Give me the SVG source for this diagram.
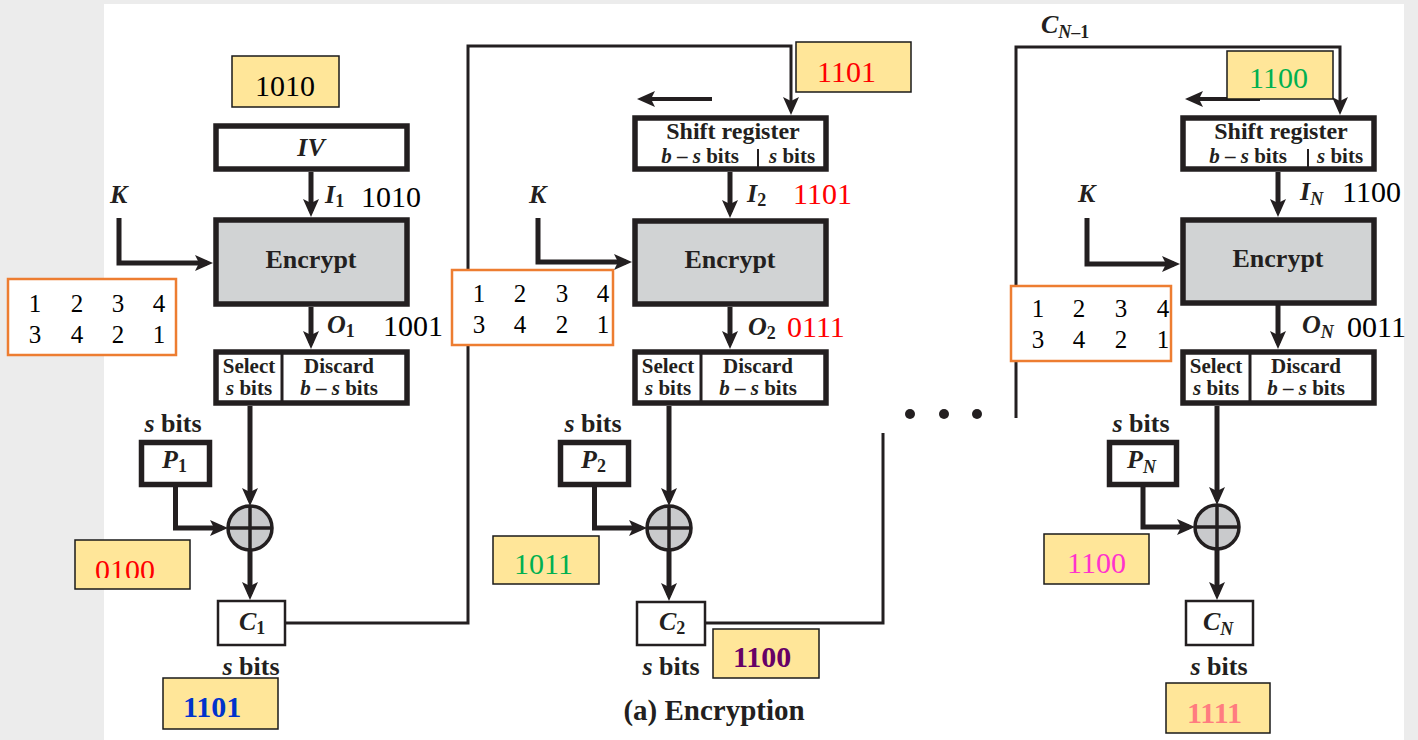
<svg xmlns="http://www.w3.org/2000/svg" width="1418" height="740" viewBox="0 0 1418 740">
<defs>
<style>
.t{font-family:"Liberation Serif","Times New Roman",serif;font-weight:bold;fill:#231f20;}
.m{text-anchor:middle;}
.i{font-style:italic;}
.n{font-family:"Liberation Serif","Times New Roman",serif;font-size:30px;fill:#000;}
.p{font-family:"Liberation Serif","Times New Roman",serif;font-size:25px;fill:#000;text-anchor:middle;}
.yb{fill:#ffe699;stroke:#1a1a1a;stroke-width:1.5;}
.ob{fill:#fff;stroke:#ed7d31;stroke-width:2.5;}
.bx{fill:#fff;stroke:#231f20;stroke-width:5.5;}
.cb{fill:#fff;stroke:#231f20;stroke-width:2.5;}
.en{fill:#d1d3d4;stroke:#231f20;stroke-width:5.5;}
.dv{stroke:#231f20;stroke-width:3;}
.ar{fill:none;stroke:#231f20;stroke-width:5;marker-end:url(#ah);}
.fb{fill:none;stroke:#231f20;stroke-width:3;}
.fba{fill:none;stroke:#231f20;stroke-width:3;marker-end:url(#ah);}
.xo{fill:#c9cacc;stroke:#231f20;stroke-width:3.5;}
.xl{stroke:#231f20;stroke-width:3.5;}
</style>
<marker id="ah" viewBox="0 0 18 18" markerWidth="18" markerHeight="18" refX="12" refY="9" orient="auto" markerUnits="userSpaceOnUse">
<path d="M0,1 L18,9 L0,17 L4,9 Z" fill="#231f20"/>
</marker>
<clipPath id="clip0100"><rect x="75" y="540" width="115" height="38"/></clipPath>
</defs>
<rect x="0" y="0" width="1418" height="740" fill="#ececec"/>
<rect x="104" y="4" width="1300" height="736" fill="#fff"/>

<g id="connectors">
<path class="ar" d="M311,172 V211"/>
<path class="ar" d="M119,218 V263 H207"/>
<path class="ar" d="M311,307 V343"/>
<path class="ar" d="M250,406 V500"/>
<path class="ar" d="M175.5,487 V528 H222"/>
<path class="ar" d="M250,550 V594"/>
<path class="fba" d="M286,623 H468 V46 H791 V109"/>
<path class="ar" d="M730,172 V212"/>
<path class="ar" d="M538,218 V262 H626"/>
<path class="ar" d="M730,307 V343"/>
<path class="ar" d="M669,406 V500"/>
<path class="ar" d="M594.5,487 V528 H641"/>
<path class="ar" d="M669,550 V595"/>
<path class="fb" d="M706,623 H883 V433"/>
<path class="ar" d="M712,99 H643" style="stroke-width:4"/>
<path class="ar" d="M1278,172 V211"/>
<path class="ar" d="M1087,218 V264 H1174"/>
<path class="ar" d="M1278,305 V343"/>
<path class="ar" d="M1217,406 V499"/>
<path class="ar" d="M1143,487 V527 H1189"/>
<path class="ar" d="M1217,549 V594"/>
<path class="fba" d="M1016,418 V47 H1340 V109"/>
<path class="ar" d="M1260,99 H1191" style="stroke-width:4"/>
</g>

<!-- Column 1 -->
<g id="iv">
<rect class="bx" x="216" y="126" width="191" height="43"/>
<text class="t i m" x="311" y="156" font-size="26">IV</text>
</g>
<g id="i1-label">
<text class="t" x="325" y="203" font-size="26"><tspan class="i">I</tspan><tspan font-size="18" dy="4">1</tspan></text>
<text class="n" x="361" y="207">1010</text>
</g>
<g id="k1"><text class="t i" x="110" y="203" font-size="26">K</text></g>
<g id="encrypt1">
<rect class="en" x="216" y="220" width="191" height="84"/>
<text class="t m" x="311" y="268" font-size="26">Encrypt</text>
</g>
<g id="o1-label">
<text class="t" x="327" y="333" font-size="26"><tspan class="i">O</tspan><tspan font-size="18" dy="4">1</tspan></text>
<text class="n" x="383" y="336">1001</text>
</g>
<g id="select1">
<rect class="bx" x="216" y="352" width="191" height="51"/>
<line class="dv" x1="282" y1="352" x2="282" y2="403"/>
<text class="t m" x="249" y="373" font-size="21">Select</text>
<text class="t m" x="249" y="395" font-size="21"><tspan class="i">s</tspan> bits</text>
<text class="t m" x="339" y="373" font-size="21">Discard</text>
<text class="t m" x="339" y="395" font-size="21"><tspan class="i">b</tspan> – <tspan class="i">s</tspan> bits</text>
</g>
<g id="perm1">
<rect class="ob" x="8" y="279" width="168" height="76"/>
<text class="p" y="312"><tspan x="35">1</tspan><tspan x="77">2</tspan><tspan x="118">3</tspan><tspan x="159">4</tspan></text>
<text class="p" y="343"><tspan x="35">3</tspan><tspan x="77">4</tspan><tspan x="118">2</tspan><tspan x="159">1</tspan></text>
</g>
<g id="p1">
<text class="t m" x="173" y="432" font-size="26"><tspan class="i">s</tspan> bits</text>
<rect class="bx" x="141.5" y="442.5" width="68" height="42"/>
<text class="t" x="162" y="468" font-size="26"><tspan class="i">P</tspan><tspan font-size="18" dy="4">1</tspan></text>
</g>
<g id="xor1">
<circle class="xo" cx="250" cy="528" r="22"/>
<line class="xl" x1="228" y1="528" x2="272" y2="528"/>
<line class="xl" x1="250" y1="506" x2="250" y2="550"/>
</g>
<g id="c1">
<rect class="cb" x="218" y="601" width="67" height="44"/>
<text class="t" x="239" y="630" font-size="26" font-weight="normal"><tspan class="i">C</tspan><tspan font-size="18" dy="4">1</tspan></text>
<text class="t m" x="251" y="675" font-size="26"><tspan class="i">s</tspan> bits</text>
</g>
<g id="v1010"><rect class="yb" x="232" y="56" width="107" height="51"/><text class="n m" x="285" y="96">1010</text></g>
<g id="v0100"><rect class="yb" x="75" y="540" width="115" height="49"/><text class="n" x="95" y="580" clip-path="url(#clip0100)" style="fill:#ff0000">0100</text></g>
<g id="v1101b"><rect class="yb" x="163" y="678" width="115" height="51"/><text class="n" x="183" y="717" font-weight="bold" style="fill:#0033cc">1101</text></g>

<!-- Column 2 -->
<g id="shift2">
<rect class="bx" x="635" y="118" width="191" height="51"/>
<line x1="758" y1="149" x2="758" y2="168" stroke="#231f20" stroke-width="2"/>
<text class="t m" x="733" y="139" font-size="24">Shift register</text>
<text class="t m" x="700" y="163" font-size="21"><tspan class="i">b</tspan> – <tspan class="i">s</tspan> bits</text>
<text class="t m" x="792" y="163" font-size="21"><tspan class="i">s</tspan> bits</text>
</g>
<g id="i2-label">
<text class="t" x="747" y="202" font-size="26"><tspan class="i">I</tspan><tspan font-size="18" dy="4">2</tspan></text>
<text class="n" x="793" y="204" style="fill:#ff0000">1101</text>
</g>
<g id="k2"><text class="t i" x="529" y="203" font-size="26">K</text></g>
<g id="encrypt2">
<rect class="en" x="635" y="221" width="191" height="83"/>
<text class="t m" x="730" y="268" font-size="26">Encrypt</text>
</g>
<g id="o2-label">
<text class="t" x="748" y="335" font-size="26"><tspan class="i">O</tspan><tspan font-size="18" dy="4">2</tspan></text>
<text class="n" x="787" y="337" style="fill:#ff0000">0111</text>
</g>
<g id="select2">
<rect class="bx" x="635" y="352" width="191" height="51"/>
<line class="dv" x1="701" y1="352" x2="701" y2="403"/>
<text class="t m" x="668" y="373" font-size="21">Select</text>
<text class="t m" x="668" y="395" font-size="21"><tspan class="i">s</tspan> bits</text>
<text class="t m" x="758" y="373" font-size="21">Discard</text>
<text class="t m" x="758" y="395" font-size="21"><tspan class="i">b</tspan> – <tspan class="i">s</tspan> bits</text>
</g>
<g id="perm2">
<rect class="ob" x="452" y="270" width="161" height="75"/>
<text class="p" y="302"><tspan x="479">1</tspan><tspan x="520">2</tspan><tspan x="562">3</tspan><tspan x="603">4</tspan></text>
<text class="p" y="333"><tspan x="479">3</tspan><tspan x="520">4</tspan><tspan x="562">2</tspan><tspan x="603">1</tspan></text>
</g>
<g id="p2">
<text class="t m" x="593" y="432" font-size="26"><tspan class="i">s</tspan> bits</text>
<rect class="bx" x="560.5" y="442.5" width="68" height="42"/>
<text class="t" x="581" y="468" font-size="26"><tspan class="i">P</tspan><tspan font-size="18" dy="4">2</tspan></text>
</g>
<g id="xor2">
<circle class="xo" cx="669" cy="528" r="22"/>
<line class="xl" x1="647" y1="528" x2="691" y2="528"/>
<line class="xl" x1="669" y1="506" x2="669" y2="550"/>
</g>
<g id="c2">
<rect class="cb" x="637" y="602" width="68" height="43"/>
<text class="t" x="659" y="630" font-size="26" font-weight="normal"><tspan class="i">C</tspan><tspan font-size="18" dy="4">2</tspan></text>
<text class="t m" x="671" y="675" font-size="26"><tspan class="i">s</tspan> bits</text>
</g>
<g id="v1101r"><rect class="yb" x="796" y="42" width="115" height="50"/><text class="n" x="817" y="82" style="fill:#ff0000">1101</text></g>
<g id="v1011"><rect class="yb" x="493" y="536" width="106" height="48"/><text class="n" x="514" y="574" style="fill:#00b050">1011</text></g>
<g id="v1100p"><rect class="yb" x="713" y="629" width="106" height="49"/><text class="n" x="733" y="667" font-weight="bold" style="fill:#660066">1100</text></g>
<g id="dots">
<circle cx="910" cy="414" r="5" fill="#231f20"/>
<circle cx="944" cy="414" r="5" fill="#231f20"/>
<circle cx="977" cy="414" r="5" fill="#231f20"/>
</g>
<g id="caption"><text class="t m" x="714" y="720" font-size="29">(a) Encryption</text></g>

<!-- Column N -->
<g id="cn1-label"><text class="t" x="1041" y="33" font-size="26" font-weight="normal"><tspan class="i">C</tspan><tspan class="i" font-size="18" dy="5">N</tspan><tspan font-size="18" font-weight="bold">–1</tspan></text></g>
<g id="shiftN">
<rect class="bx" x="1183" y="118" width="191" height="51"/>
<line x1="1308" y1="149" x2="1308" y2="168" stroke="#231f20" stroke-width="2"/>
<text class="t m" x="1281" y="139" font-size="24">Shift register</text>
<text class="t m" x="1248" y="163" font-size="21"><tspan class="i">b</tspan> – <tspan class="i">s</tspan> bits</text>
<text class="t m" x="1340" y="163" font-size="21"><tspan class="i">s</tspan> bits</text>
</g>
<g id="iN-label">
<text class="t" x="1300" y="200" font-size="26"><tspan class="i">I</tspan><tspan class="i" font-size="18" dy="5">N</tspan></text>
<text class="n" x="1342" y="202">1100</text>
</g>
<g id="kN"><text class="t i" x="1078" y="202" font-size="26">K</text></g>
<g id="encryptN">
<rect class="en" x="1183" y="220" width="191" height="83"/>
<text class="t m" x="1278" y="267" font-size="26">Encrypt</text>
</g>
<g id="oN-label">
<text class="t" x="1302" y="333" font-size="26"><tspan class="i">O</tspan><tspan class="i" font-size="18" dy="5">N</tspan></text>
<text class="n" x="1347" y="337">0011</text>
</g>
<g id="selectN">
<rect class="bx" x="1183" y="352" width="191" height="51"/>
<line class="dv" x1="1250" y1="352" x2="1250" y2="403"/>
<text class="t m" x="1216" y="373" font-size="21">Select</text>
<text class="t m" x="1216" y="395" font-size="21"><tspan class="i">s</tspan> bits</text>
<text class="t m" x="1306" y="373" font-size="21">Discard</text>
<text class="t m" x="1306" y="395" font-size="21"><tspan class="i">b</tspan> – <tspan class="i">s</tspan> bits</text>
</g>
<g id="permN">
<rect class="ob" x="1011" y="286" width="160" height="75"/>
<text class="p" y="317"><tspan x="1038">1</tspan><tspan x="1079">2</tspan><tspan x="1121">3</tspan><tspan x="1163">4</tspan></text>
<text class="p" y="348"><tspan x="1038">3</tspan><tspan x="1079">4</tspan><tspan x="1121">2</tspan><tspan x="1163">1</tspan></text>
</g>
<g id="pN">
<text class="t m" x="1141" y="432" font-size="26"><tspan class="i">s</tspan> bits</text>
<rect class="bx" x="1109.5" y="442.5" width="67" height="42"/>
<text class="t" x="1127" y="468" font-size="26"><tspan class="i">P</tspan><tspan class="i" font-size="18" dy="5">N</tspan></text>
</g>
<g id="xorN">
<circle class="xo" cx="1217" cy="527" r="22"/>
<line class="xl" x1="1195" y1="527" x2="1239" y2="527"/>
<line class="xl" x1="1217" y1="505" x2="1217" y2="549"/>
</g>
<g id="cN">
<rect class="cb" x="1186" y="601" width="67" height="44"/>
<text class="t" x="1203" y="630" font-size="26" font-weight="normal"><tspan class="i">C</tspan><tspan class="i" font-size="18" dy="5">N</tspan></text>
<text class="t m" x="1219" y="675" font-size="26"><tspan class="i">s</tspan> bits</text>
</g>
<g id="v1100g"><rect class="yb" x="1227" y="51" width="106" height="48"/><text class="n" x="1249" y="88" style="fill:#00b050">1100</text></g>
<g id="v1100m"><rect class="yb" x="1044" y="534" width="105" height="50"/><text class="n" x="1067" y="573" style="fill:#ff33cc">1100</text></g>
<g id="v1111"><rect class="yb" x="1166" y="683" width="104" height="50"/><text class="n" x="1187" y="723" font-weight="bold" style="fill:#ff7c80">1111</text></g>
</svg>
